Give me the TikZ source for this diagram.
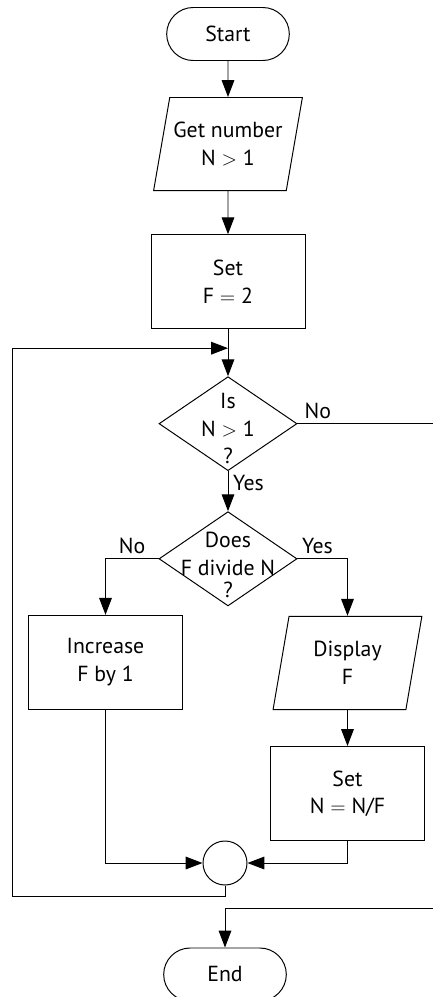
\documentclass[tikz,border=0pt]{standalone}
\usepackage{fontspec}
\setmainfont{PT Sans}
\usetikzlibrary{shapes.geometric,shapes.misc,arrows.meta,positioning}
\newcommand{\chartfont}{\fontsize{15.5}{19.5}\selectfont}
\newcommand{\dtext}[2]{\smash{\raisebox{#1}{\begin{tabular}{@{}c@{}}#2\end{tabular}}}}
\tikzset{
termbox/.style={rounded rectangle,draw=black,line width=0.7pt,
  minimum width=3.3cm,minimum height=1.325cm},
iobox/.style={trapezium,trapezium left angle=73,trapezium right angle=107,
  trapezium stretches body,draw=black,line width=0.7pt,inner xsep=2pt,
  minimum width=3.72cm,minimum height=2.33cm,align=center},
procbox/.style={rectangle,draw=black,line width=0.7pt,
  minimum width=3.85cm,minimum height=2.35cm,align=center},
decbox/.style={diamond,draw=black,line width=0.7pt,inner sep=0pt,
  minimum width=3.45cm,minimum height=2.35cm},
joint/.style={circle,draw=black,line width=0.7pt,minimum size=1.1cm,inner sep=0pt},
flowarr/.style={line width=0.7pt,-{Triangle[length=12pt,width=9pt]}},
flowline/.style={line width=0.7pt}
}
\begin{document}
\begin{tikzpicture}[font=\chartfont]
\useasboundingbox (0,0) rectangle (10.825,-24.925);
\node[termbox] (start) at (5.7,-0.85) {Start};
\node[iobox,below=0.9cm of start] (getn) {Get number\\N $>$ 1};
\node[procbox,below=1.075cm of getn] (setf) {Set\\F $=$ 2};
\node[decbox,below=1.175cm of setf] (isn) {\dtext{-8.5pt}{Is\\N $>$ 1\\?}};
\node[decbox,below=1.0cm of isn] (fdiv) {\dtext{-9.5pt}{Does\\F divide N\\[-4pt]?}};
\node[procbox,anchor=north] (inc) at ([xshift=-1.325cm,yshift=-1.4cm]fdiv.west) {Increase\\F by 1};
\node[iobox,anchor=north] (disp) at ([xshift=1.25cm,yshift=-1.425cm]fdiv.east) {Display\\F};
\node[procbox,below=0.9cm of disp] (setn) {Set\\N $=$ N/F};
\node[joint] (merge) at (5.625,-21.575) {};
\node[termbox,below=1.55cm of merge] (end) {End};

\coordinate (join) at ([yshift=-0.475cm]setf.south);
\coordinate (loopleft) at (0.3,-22.4);
\coordinate (rim) at (10.825,0);
\coordinate (exitin) at (10.825,-22.7);

\draw[flowarr] (start) -- (getn);
\draw[flowarr] (getn) -- (setf);
\draw[flowarr] (setf) -- (isn);
\draw[flowline] (isn.east) -- node[above,pos=0.15] {No} (isn.east -| rim);
\draw[flowarr] (isn) -- node[right,pos=0.3] {Yes} (fdiv);
\draw[flowarr] (fdiv.west) -| node[above,pos=0.25] {No} (inc.north);
\draw[flowarr] (fdiv.east) -| node[above,pos=0.2] {Yes} (disp.north);
\draw[flowarr] (disp) -- (setn);
\draw[flowarr] (inc.south) |- (merge.west);
\draw[flowarr] (setn.south) |- (merge.east);
\draw[flowarr] (merge.south) |- (loopleft) |- (join);
\draw[flowarr] (exitin) -| (end);
\end{tikzpicture}
\end{document}
